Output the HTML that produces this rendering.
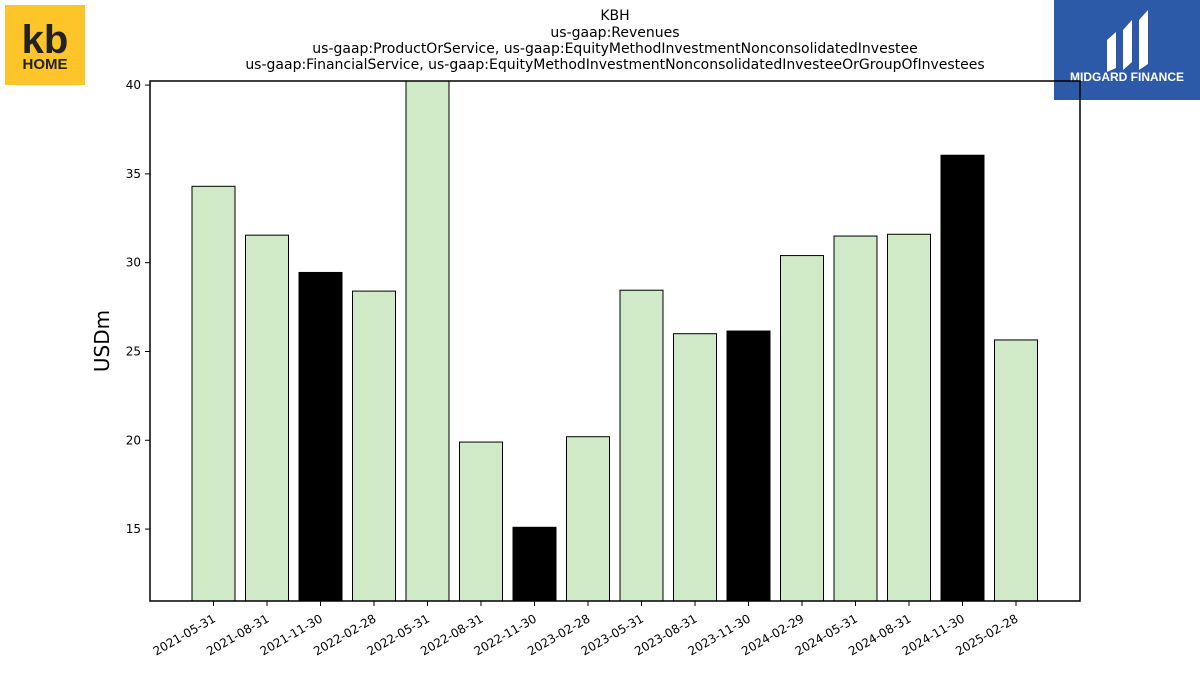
<!DOCTYPE html>
<html><head><meta charset="utf-8"><style>
body{margin:0;background:#fff;width:1200px;height:675px;overflow:hidden;font-family:"Liberation Sans","DejaVu Sans",sans-serif}
svg{display:block}
</style></head><body>
<svg id="chart" width="1200" height="675" xmlns="http://www.w3.org/2000/svg" font-family="DejaVu Sans, Liberation Sans, sans-serif">
<g font-size="14" text-anchor="middle" fill="#000">
<text x="615" y="20">KBH</text>
<text x="615" y="37">us-gaap:Revenues</text>
<text x="615" y="53">us-gaap:ProductOrService, us-gaap:EquityMethodInvestmentNonconsolidatedInvestee</text>
<text x="615" y="69">us-gaap:FinancialService, us-gaap:EquityMethodInvestmentNonconsolidatedInvesteeOrGroupOfInvestees</text>
</g>
<g>
<rect x="5" y="5" width="80" height="80" fill="#fdc52a"/>
<text x="45" y="53" font-size="40" font-weight="bold" text-anchor="middle" fill="#222" font-family="Liberation Sans, sans-serif">kb</text>
<text x="45" y="69" font-size="15" font-weight="bold" text-anchor="middle" fill="#222" font-family="Liberation Sans, sans-serif">HOME</text>
</g>
<g>
<rect x="1054" y="0" width="146" height="100" fill="#2c5aa8"/>
<path d="M1107 40 L1116 32 L1116 68 L1107 72 Z M1123 30 L1132 20 L1132 62 L1123 70 Z M1139 20 L1148 10 L1148 64 L1139 70 Z" fill="#fff"/>
<text x="1127" y="81" font-size="12" font-weight="bold" text-anchor="middle" fill="#fff" font-family="Liberation Sans, sans-serif">MIDGARD FINANCE</text>
</g>
<g id="plot"></g>
<text transform="translate(109,341) rotate(-90)" font-size="20" text-anchor="middle">USDm</text>
</svg>
<script>
const categories=["2021-05-31","2021-08-31","2021-11-30","2022-02-28","2022-05-31","2022-08-31","2022-11-30","2023-02-28","2023-05-31","2023-08-31","2023-11-30","2024-02-29","2024-05-31","2024-08-31","2024-11-30","2025-02-28"];
const values=[34.3,31.55,29.45,28.4,41,19.9,15.1,20.2,28.45,26.0,26.15,30.4,31.5,31.6,36.05,25.65];
const highlighted=[false,false,true,false,false,false,true,false,false,false,true,false,false,false,true,false];
const yTicks=[15,20,25,30,35,40];
const L=150,R=1080,T=81,B=601,yMin=10.95,yMax=40.23;
const ns="http://www.w3.org/2000/svg";
const g=document.getElementById('plot');
const y=v=>B-(v-yMin)/(yMax-yMin)*(B-T);
const step=53.5,x0=213.5;
const x=i=>x0+i*step;
function mk(t,a){const e=document.createElementNS(ns,t);for(const k in a)e.setAttribute(k,a[k]);return e;}
const clip=mk('clipPath',{id:'pc'});clip.appendChild(mk('rect',{x:L,y:T,width:R-L,height:B-T}));g.appendChild(clip);
const bars=mk('g',{'clip-path':'url(#pc)'});g.appendChild(bars);
categories.forEach((c,i)=>{
 const top=y(values[i]);
 const r=mk('rect',{x:x(i)-21.5,y:top,width:43,height:B-top,fill:highlighted[i]?'#000':'#d0eac8',stroke:'#000','stroke-width':1});
 
 
 bars.appendChild(r);
 const tk=mk('line',{x1:x(i),x2:x(i),y1:B,y2:B+5,stroke:'#000'});
 
 
 g.appendChild(tk);
 const t=mk('text',{x:x(i)+3,y:B+20,'font-size':12,'text-anchor':'end',transform:`rotate(-30 ${x(i)+3} ${B+20})`});
 t.textContent=c;
 
 
 g.appendChild(t);
});
yTicks.forEach(v=>{
 const tk=mk('line',{x1:L-5,x2:L,y1:y(v),y2:y(v),stroke:'#000'});
 
 
 g.appendChild(tk);
 const t=mk('text',{x:L-9,y:y(v)+4,'font-size':12,'text-anchor':'end'});
 t.textContent=v;
 
 
 g.appendChild(t);
});
const frame=mk('rect',{x:L,y:T,width:R-L,height:B-T,fill:'none',stroke:'#000','stroke-width':1.5});


g.appendChild(frame);
</script>
</body></html>
